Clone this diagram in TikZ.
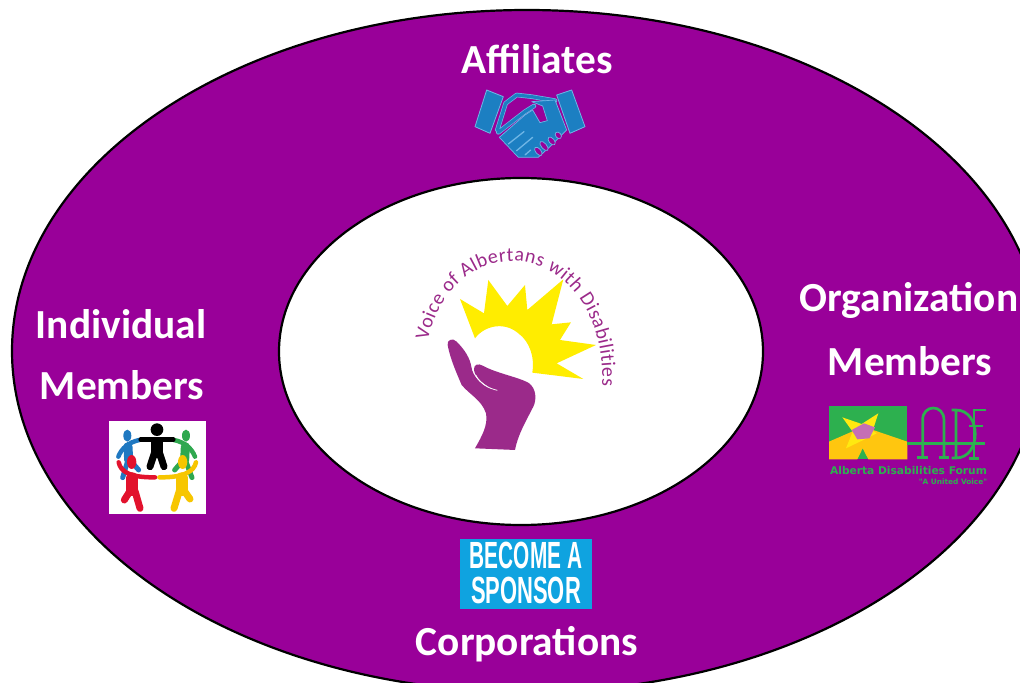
\documentclass[tikz,border=0pt]{standalone}
\usepackage{fontspec}
\setmainfont{Carlito}
\newfontfamily\logofont{Carlito}
\newfontfamily\sponsorfont{Liberation Sans}
\newfontfamily\adffont{DejaVu Sans}
\usetikzlibrary{decorations.text}
\definecolor{vpurple}{HTML}{990099}
\definecolor{handpurple}{HTML}{9B2A8A}
\definecolor{sunyellow}{HTML}{FFED00}
\definecolor{shakeblue}{HTML}{1C7FC2}
\definecolor{shakeedge}{HTML}{6FB6E6}
\definecolor{sponsorblue}{HTML}{0FA3E0}
\definecolor{adfgreen}{HTML}{2DB04F}
\definecolor{adforange}{HTML}{FFC60F}
\definecolor{adfyellow}{HTML}{FFE910}
\definecolor{adfmauve}{HTML}{C56FB5}
\definecolor{pblue}{HTML}{1F78C1}
\definecolor{pgreen}{HTML}{2FA84F}
\definecolor{pred}{HTML}{E2122D}
\definecolor{pyellow}{HTML}{F7C600}
\tikzset{
  ring/.style={draw=black,line width=2.2bp},
  heading/.style={text=white,font=\fontsize{41.5}{46}\selectfont\bfseries,align=center,inner sep=0pt},
  cuff/.style={fill=shakeblue,draw=shakeedge,line width=.8bp,line join=round},
  adfline/.style={draw=adfgreen,line width=2.7bp},
  limb/.style={line cap=round,line join=round,line width=4.5bp},
  leg/.style={line cap=round,line join=round,line width=7bp},
  trunk/.style={line cap=round,line width=12bp},
  sponsorword/.style={inner sep=0pt,text=white,font=\sponsorfont\bfseries\fontsize{38}{40}\selectfont}
}
\begin{document}
\begin{tikzpicture}[x=1bp,y=-1bp]
\useasboundingbox (0,0) rectangle (1020,683);
\fill[white] (0,0) rectangle (1020,683);
\begin{scope}
\clip (0,0) rectangle (1020,683);
\draw[ring,fill=vpurple] (527,351) ellipse [x radius=515,y radius=341];
\end{scope}
\draw[ring,fill=white] (521,351.5) ellipse [x radius=242,y radius=173.5];

% Central logo
\begin{scope}[shift={(400,230)},x=.3333bp,y=-.3333bp]
  \fill[sunyellow] (225,325)--(180,207)--(252,250)--(265,150)--(322,228)--(375,165)--(382,240)--(490,148)--(455,283)--(513,277)--(480,330)--(588,345)--(470,400)--(550,447)--(397,428)
    .. controls (405,385) and (390,335) .. (355,310) .. controls (315,275) and (255,285) .. (225,325) -- cycle;
  \fill[handpurple] (143,345) .. controls (140,330) and (158,322) .. (170,335)
    .. controls (195,360) and (210,385) .. (214,410)
    .. controls (218,440) and (245,470) .. (292,482)
    .. controls (255,470) and (222,440) .. (222,418)
    .. controls (222,402) and (235,400) .. (248,407)
    .. controls (290,430) and (350,440) .. (385,458)
    .. controls (410,475) and (410,510) .. (400,530)
    .. controls (380,570) and (355,610) .. (345,660)
    -- (225,655)
    .. controls (245,620) and (265,585) .. (258,550)
    .. controls (245,510) and (210,495) .. (185,465)
    .. controls (170,430) and (150,385) .. (143,345) -- cycle;
  \draw[white,line width=.7bp] (228,436) .. controls (240,462) and (265,475) .. (292,481);
\end{scope}
\path[decorate,decoration={text along path,text align={fit to path},
   text={|\logofont\fontsize{20}{22}\selectfont\color{handpurple}|Voice of Albertans with Disabilities}}]
  (428,341) .. controls (438,290) and (475,261) .. (512,261) .. controls (565,262) and (606,315) .. (602,386);

% Affiliates
\node[heading] (affiliates) at (537,59) {Affiliates};
\begin{scope}[shift={(460,80)},x=.3333bp,y=-.3333bp]
  \draw[shakeedge,line width=4.6bp,line join=round,line cap=round] (112,150)--(137,70)--(170,45)--(215,50)--(285,62) (115,157)--(195,95)--(222,78);
  \draw[shakeblue,line width=3.2bp,line join=round,line cap=round] (112,150)--(137,70)--(170,45)--(215,50)--(285,62) (115,157)--(195,95)--(222,78);
  \draw[cuff] (80,30)--(130,50)--(90,160)--(45,140)--cycle;
  \draw[cuff] (290,45)--(335,30)--(375,140)--(330,160)--cycle;
  \fill[shakeblue,draw=shakeedge,line width=.7bp,line join=round]
    (215,65)--(285,60)--(320,150)--(295,175)--(270,200)--(235,232)--(175,232)--(118,172)--(195,105)--(218,90)--(240,128)--(262,122)--(248,78)--cycle;
  \draw[shakeedge,line width=1.3bp,line cap=round] (145,192)--(192,155) (170,212)--(218,172) (195,225)--(212,210);
  \foreach \fx/\fy/\fw in {235/214/15,252/198/17,275/183/14,295/166/11}{
    \fill[vpurple,draw=shakeedge,line width=.7bp,rotate around={-50:(\fx,\fy)}] (\fx,\fy) ellipse [x radius=\fw,y radius=8];
  }
\end{scope}

% Individual members
\node[heading] (individual) at (121,324) {Individual};
\node[heading] (imembers) at (122,385) {Members};
\fill[white] (108.5,421) rectangle (206,514);
\begin{scope}[shift={(100,415)},x=.3333bp,y=-.3333bp]
  % blue
  \fill[pblue] (82,62) ellipse [x radius=12,y radius=18];
  \draw[limb,pblue] (118,75) .. controls (85,82) and (65,100) .. (55,125);
  \draw[trunk,pblue,line width=9bp] (84,95)--(86,135);
  \draw[leg,pblue,line width=5bp] (84,135)--(68,188) (90,135)--(116,165);
  % green
  \fill[pgreen] (258,62) ellipse [x radius=12,y radius=18];
  \draw[limb,pgreen] (222,75) .. controls (255,82) and (275,100) .. (285,125);
  \draw[trunk,pgreen,line width=9bp] (256,95)--(254,135);
  \draw[leg,pgreen,line width=5bp] (256,135)--(276,188) (250,135)--(224,165);
  % black
  \fill[black] (171,44) circle [radius=19];
  \draw[limb,black] (122,74)--(220,74);
  \draw[trunk,black] (171,85)--(171,112);
  \draw[leg,black] (163,115)--(150,155) (179,115)--(192,155);
  % red
  \fill[pred] (95,141) ellipse [x radius=14,y radius=21];
  \draw[limb,pred] (56,142) .. controls (62,170) and (90,188) .. (165,187);
  \draw[trunk,pred] (97,190)--(97,225);
  \draw[leg,pred] (90,228)--(73,255) (105,228)--(120,280);
  % yellow
  \fill[pyellow] (248,141) ellipse [x radius=14,y radius=21];
  \draw[limb,pyellow] (288,142) .. controls (282,170) and (250,188) .. (178,187);
  \draw[trunk,pyellow] (245,190)--(245,225);
  \draw[leg,pyellow] (238,228)--(222,280) (253,228)--(270,252);
\end{scope}

% Organization members
\node[heading] (organization) at (909,300) {Organization};
\node[heading] (omembers) at (910,361) {Members};
\begin{scope}[shift={(820,400)},x=.3333bp,y=-.3333bp]
  \fill[adfgreen] (27,18) rectangle (262,178);
  \fill[adforange] (27,178)--(27,125)--(130,80)--(262,125)--(262,178)--(145,178)--(128,145)--(112,178)--cycle;
  \fill[adfyellow] (67,52)--(125,72)--(175,40)--(158,92)--(170,100)--(130,120)--(78,145)--(98,95)--cycle;
  \fill[adfmauve] (95,90)--(132,70)--(165,82)--(148,115)--(112,118)--cycle;
  \draw[adfline] (262,130)--(495,130);
  \draw[adfline] (308,172)--(308,60) .. controls (308,12) and (372,12) .. (372,60) -- (372,172);
  \draw[adfline] (292,172)--(325,172) (356,172)--(388,172);
  \draw[adfline] (408,30)--(408,174) (395,30)--(408,30) .. controls (485,30) and (485,174) .. (408,174) -- (395,174);
  \draw[adfline] (497,30)--(462,30)--(462,175) (448,175)--(476,175) (448,78)--(488,78);
\end{scope}
\node[inner sep=0pt,text=adfgreen,font=\adffont\bfseries\fontsize{10.7}{12}\selectfont] (adfname) at (908.5,471) {Alberta Disabilities Forum};
\node[inner sep=0pt,text=adfgreen,font=\adffont\bfseries\fontsize{7.4}{9}\selectfont] (adfvoice) at (953,482) {"A United Voice"};

% Corporations
\fill[sponsorblue] (459.5,539) rectangle (592,609);
\node[sponsorword,xscale=.55] (become) at (526,555.5) {BECOME A};
\node[sponsorword,xscale=.58] (sponsor) at (526,590) {SPONSOR};
\node[heading] (corporations) at (527,644.5) {Corporations};
\end{tikzpicture}
\end{document}
